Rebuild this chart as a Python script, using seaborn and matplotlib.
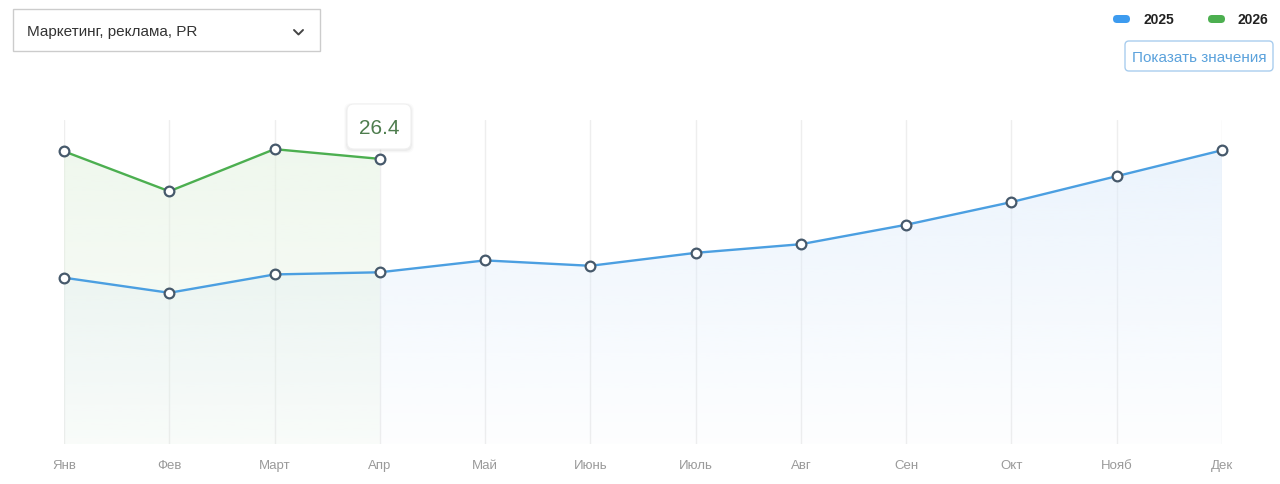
import matplotlib
matplotlib.use("Agg")
import matplotlib.pyplot as plt
import numpy as np
import pandas as pd
import seaborn as sns
from matplotlib.patches import FancyBboxPatch, Rectangle
from matplotlib.colors import to_rgb

sns.set_theme(style="white")
plt.rcParams["font.family"] = ["Liberation Sans", "DejaVu Sans"]

MONTHS = ["Янв", "Фев", "Март", "Апр", "Май", "Июнь",
          "Июль", "Авг", "Сен", "Окт", "Нояб", "Дек"]
VALUES_2025 = [15.4, 14.0, 15.7, 15.9, 17.0, 16.5,
               17.7, 18.5, 20.3, 22.4, 24.8, 27.2]
VALUES_2026 = [27.1, 23.4, 27.3, 26.4]
TOOLTIP_VALUE = "26.4"
CATEGORY = "Маркетинг, реклама, PR"

BLUE = "#4b9fe1"
GREEN = "#4caf50"
EDGE = "#46596b"

df = pd.concat([
    pd.DataFrame({"x": range(len(VALUES_2025)), "y": VALUES_2025, "year": "2025"}),
    pd.DataFrame({"x": range(len(VALUES_2026)), "y": VALUES_2026, "year": "2026"}),
])

W, H = 1280, 485
fig = plt.figure(figsize=(W / 100, H / 100), dpi=100)
fig.patch.set_facecolor("white")

# plot area in pixel terms: x 64..1222, y 121..445
ax = fig.add_axes([64 / W, (H - 445) / H, (1222 - 64) / W, (445 - 121) / H])
ax.set_xlim(0, 11)
ax.set_ylim(0, 30)
for s in ax.spines.values():
    s.set_visible(False)
ax.set_yticks([])
ax.set_xticks(range(12))
ax.set_xticklabels(MONTHS, color="#9a9a9a", fontsize=9.5)
ax.tick_params(axis="x", length=0, pad=11)
for i in range(12):
    ax.axvline(i, color="#eeeeee", lw=1, zorder=0)


def gradient_fill(x, y, color, top_alpha, bottom_alpha):
    poly = ax.fill_between(x, y, 0, color="none", lw=0)
    rgb = to_rgb(color)
    grad = np.zeros((256, 1, 4))
    grad[:, 0, :3] = rgb
    grad[:, 0, 3] = np.linspace(top_alpha, bottom_alpha, 256)
    im = ax.imshow(grad, aspect="auto", extent=[0, 11, 0, 30],
                   origin="upper", zorder=1, interpolation="bilinear")
    path = poly.get_paths()[0]
    im.set_clip_path(path, transform=ax.transData)


gradient_fill(np.arange(12), VALUES_2025, "#dcebfb", 0.6, 0.05)
gradient_fill(np.arange(4), VALUES_2026, "#e3f2e0", 0.6, 0.15)

sns.lineplot(data=df, x="x", y="y", hue="year", palette={"2025": BLUE, "2026": GREEN},
             ax=ax, lw=1.7, marker="o", markersize=7, markerfacecolor="white",
             markeredgecolor=EDGE, markeredgewidth=1.6, legend=False,
             zorder=3, clip_on=False)
ax.set_xlabel("")
ax.set_ylabel("")

# overlay in pixel coords
ov = fig.add_axes([0, 0, 1, 1], facecolor="none")
ov.set_xlim(0, W)
ov.set_ylim(H, 0)
ov.axis("off")

# dropdown
ov.add_patch(Rectangle((13, 10), 307, 42, fc="white", ec="#cccccc", lw=1))
ov.text(27, 32, CATEGORY, fontsize=11, color="#333333", va="center", ha="left")
ov.plot([294, 298.5, 303], [31, 35.5, 31], color="#444444", lw=1.4,
        solid_capstyle="round", solid_joinstyle="round")

# legend
for px, label, c in [(1113, "2025", "#3d9bef"), (1208, "2026", GREEN)]:
    ov.add_patch(FancyBboxPatch((px, 16), 17, 8,
                                boxstyle="round,pad=0,rounding_size=4",
                                fc=c, ec="none"))
    ov.text(px + 30, 20, label, fontsize=10, fontweight="bold", color="#222222",
            va="center", ha="left")

# button
ov.add_patch(FancyBboxPatch((1125, 42), 148, 30,
                            boxstyle="round,pad=0,rounding_size=4",
                            fc="white", ec="#a9cdee", lw=1))
ov.text(1199, 57.5, "Показать значения", fontsize=11, color="#5ba2dc",
        va="center", ha="center")

# tooltip
for i, a in enumerate([0.035, 0.025, 0.015]):
    ov.add_patch(FancyBboxPatch((347 - i - 1, 105 - i + 1), 64 + 2 * i + 2, 45 + 2 * i + 1,
                                boxstyle="round,pad=0,rounding_size=7",
                                fc="black", ec="none", alpha=a))
ov.add_patch(FancyBboxPatch((347, 105), 64, 45,
                            boxstyle="round,pad=0,rounding_size=7",
                            fc="white", ec="#f0f0f0", lw=0.8))
ov.text(379, 128, TOOLTIP_VALUE, fontsize=15, color="#4e7d4e",
        va="center", ha="center")

fig.savefig("out.png", dpi=100, facecolor="white")
